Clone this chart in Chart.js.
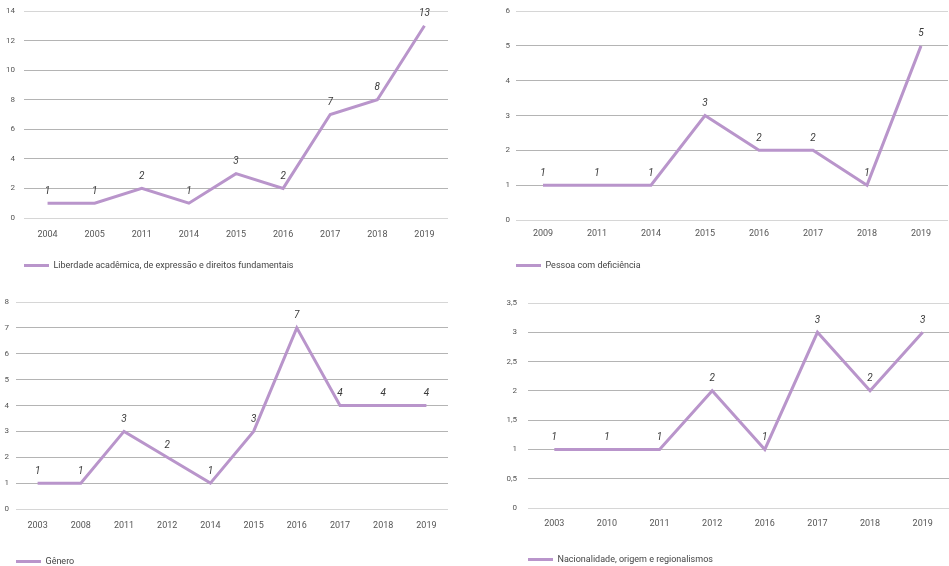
<!DOCTYPE html>
<html>
<head>
<meta charset="utf-8">
<script src="https://cdn.jsdelivr.net/npm/chart.js@4"></script>
<style>
  html, body { margin: 0; padding: 0; background: #fff; overflow: hidden; }
  #page { position: relative; width: 949px; height: 566px; overflow: hidden; }
  canvas { position: absolute; }
</style>
</head>
<body>
<div id="page">
  <canvas id="c1" width="470" height="280" style="left:0;top:0"></canvas>
  <canvas id="c2" width="479" height="280" style="left:470px;top:0"></canvas>
  <canvas id="c3" width="470" height="296" style="left:0;top:280px"></canvas>
  <canvas id="c4" width="479" height="296" style="left:470px;top:280px"></canvas>
</div>
<script>
// data
const yearsLiberdade = ['2004', '2005', '2011', '2014', '2015', '2016', '2017', '2018', '2019']
const valuesLiberdade = [1, 1, 2, 1, 3, 2, 7, 8, 13]

const yearsDeficiencia = ['2009', '2011', '2014', '2015', '2016', '2017', '2018', '2019']
const valuesDeficiencia = [1, 1, 1, 3, 2, 2, 1, 5]

const yearsGenero = ['2003', '2008', '2011', '2012', '2014', '2015', '2016', '2017', '2018', '2019']
const valuesGenero = [1, 1, 3, 2, 1, 3, 7, 4, 4, 4]

const yearsNacionalidade = ['2003', '2010', '2011', '2012', '2016', '2017', '2018', '2019']
const valuesNacionalidade = [1, 1, 1, 2, 1, 3, 2, 3]

const LINE = '#b995cb'
const FONT = 'Roboto'

const pointLabels = {
  id: 'pointLabels',
  afterDatasetsDraw (chart) {
    const ctx = chart.ctx
    const meta = chart.getDatasetMeta(0)
    const values = chart.data.datasets[0].data
    ctx.save()
    ctx.font = 'italic 10px ' + FONT
    ctx.fillStyle = '#3a3a3a'
    ctx.textAlign = 'center'
    ctx.textBaseline = 'middle'
    meta.data.forEach((pt, i) => {
      ctx.fillText(String(values[i]), pt.x, pt.y - 12)
    })
    ctx.restore()
  }
}

function makeChart (id, labels, values, name, cfg) {
  const ctx = document.getElementById(id).getContext('2d')
  return new Chart(ctx, {
    type: 'line',
    data: {
      labels,
      datasets: [{
        label: name,
        data: values,
        borderColor: LINE,
        backgroundColor: LINE,
        borderWidth: 3,
        pointRadius: 0,
        tension: 0
      }]
    },
    options: {
      responsive: false,
      animation: false,
      layout: { padding: cfg.padding },
      plugins: {
        tooltip: { enabled: false },
        legend: {
          position: 'bottom',
          align: 'start',
          fullSize: false,
          labels: {
            boxWidth: 25,
            boxHeight: 3,
            padding: 0,
            color: '#444',
            font: { family: FONT, size: 9 },
            generateLabels: chart => Chart.defaults.plugins.legend.labels.generateLabels(chart)
              .map(l => ({ ...l, lineWidth: 0 }))
          }
        }
      },
      scales: {
        x: {
          offset: true,
          grid: { display: false },
          border: { display: false },
          ticks: { color: '#555', padding: cfg.xPad, font: { family: FONT, size: 9 }, maxRotation: 0 },
          afterFit: s => { s.height = cfg.xHeight }
        },
        y: {
          min: 0,
          max: cfg.max,
          border: { display: false },
          grid: {
            drawTicks: false,
            lineWidth: 1,
            color: c => (c.index === 0 || c.tick.value === cfg.max) ? '#d6d6d6' : '#b4b4b4'
          },
          ticks: {
            stepSize: cfg.step,
            padding: cfg.tickPad,
            color: '#555',
            font: { family: FONT, size: 8 },
            callback: v => String(v).replace('.', ',')
          },
          afterFit: s => {
            s.width = cfg.yWidth
            // keep tick padding from pushing the plot area down
            s.paddingTop = 5
            s.paddingBottom = 5
          }
        }
      }
    },
    plugins: [pointLabels]
  })
}

makeChart('c1', yearsLiberdade, valuesLiberdade,
  'Liberdade acadêmica, de expressão e direitos fundamentais',
  { max: 14, step: 2, yWidth: 24, tickPad: 9, xHeight: 43, xPad: 3, padding: { top: 11, right: 22, bottom: 0, left: 0 } })

makeChart('c2', yearsDeficiencia, valuesDeficiencia,
  'Pessoa com deficiência',
  { max: 6, step: 1, yWidth: 46, tickPad: 6, xHeight: 41, xPad: 0, padding: { top: 11, right: 1, bottom: 0, left: 0 } })

makeChart('c3', yearsGenero, valuesGenero,
  'Gênero',
  { max: 8, step: 1, yWidth: 16, tickPad: 7, xHeight: 48, xPad: 3, padding: { top: 22, right: 22, bottom: 0, left: 0 } })

makeChart('c4', yearsNacionalidade, valuesNacionalidade,
  'Nacionalidade, origem e regionalismos',
  { max: 3.5, step: 0.5, yWidth: 58, tickPad: 11, xHeight: 47, xPad: 2, padding: { top: 23, right: 0, bottom: 2, left: 0 } })
</script>
</body>
</html>
